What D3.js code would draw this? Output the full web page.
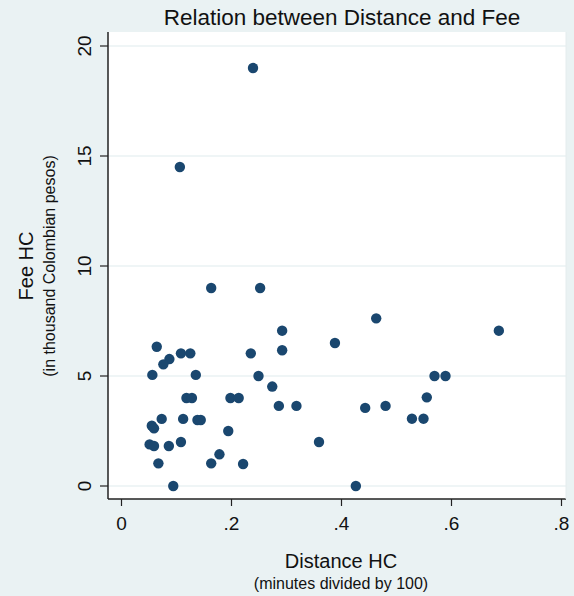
<!DOCTYPE html>
<html>
<head>
<meta charset="utf-8">
<script src="https://cdn.jsdelivr.net/npm/d3@7"></script>
<style>
  html, body { margin: 0; padding: 0; background: #eaf2f3; }
  svg { display: block; font-family: "Liberation Sans", Arial, sans-serif; }
</style>
</head>
<body>
<svg id="chart" width="574" height="596"></svg>
<script>
const distance = [0.240, 0.107, 0.164, 0.253, 0.464, 0.293, 0.687, 0.389, 0.065, 0.109,
  0.126, 0.236, 0.293, 0.088, 0.077, 0.057, 0.136, 0.250, 0.570, 0.590,
  0.275, 0.119, 0.129, 0.199, 0.214, 0.556, 0.287, 0.319, 0.481, 0.444,
  0.074, 0.113, 0.139, 0.145, 0.529, 0.550, 0.056, 0.060, 0.195, 0.052,
  0.060, 0.087, 0.109, 0.360, 0.179, 0.068, 0.164, 0.222, 0.095, 0.427];
const fee = [19.0, 14.5, 9.0, 9.0, 7.62, 7.06, 7.06, 6.5, 6.33, 6.03,
  6.03, 6.03, 6.17, 5.77, 5.53, 5.05, 5.05, 5.0, 5.0, 5.0,
  4.52, 4.0, 4.0, 4.0, 4.0, 4.03, 3.64, 3.64, 3.64, 3.55,
  3.05, 3.05, 3.0, 3.0, 3.06, 3.06, 2.74, 2.62, 2.5, 1.89,
  1.82, 1.82, 2.0, 2.0, 1.44, 1.03, 1.03, 1.0, 0, 0];
const xTicks = [0, 0.2, 0.4, 0.6, 0.8];
const xTickLabels = ["0", ".2", ".4", ".6", ".8"];
const yTicks = [0, 5, 10, 15, 20];
const yTickLabels = ["0", "5", "10", "15", "20"];
const title = "Relation between Distance and Fee";
const xTitle = "Distance HC";
const xSubtitle = "(minutes divided by 100)";
const yTitle = "Fee HC";
const ySubtitle = "(in thousand Colombian pesos)";

const svg = d3.select("#chart");
const W = 574, H = 596;
const plot = { left: 108, right: 566, top: 32, bottom: 499 };
const x = d3.scaleLinear().domain([0, 0.8]).range([121, 561]);
const y = d3.scaleLinear().domain([0, 20]).range([486, 46]);

svg.append("rect").attr("width", W).attr("height", H).attr("fill", "#eaf2f3");
svg.append("rect")
  .attr("x", plot.left).attr("y", plot.top)
  .attr("width", plot.right - plot.left).attr("height", plot.bottom - plot.top)
  .attr("fill", "#ffffff");

// gridlines
svg.append("g").selectAll("line").data(yTicks).join("line")
  .attr("x1", plot.left).attr("x2", plot.right)
  .attr("y1", d => y(d)).attr("y2", d => y(d))
  .attr("stroke", "#eaf2f3").attr("stroke-width", 1.5);

// y axis
const yAxis = d3.axisLeft(y).tickValues(yTicks)
  .tickFormat((d, i) => yTickLabels[i]).tickSize(8).tickPadding(6);
const gy = svg.append("g").attr("transform", `translate(${plot.left},0)`).call(yAxis);
gy.select(".domain").remove();
gy.append("line").attr("x1", 0).attr("x2", 0).attr("y1", plot.top).attr("y2", plot.bottom)
  .attr("stroke", "#222").attr("stroke-width", 1.5);
gy.selectAll(".tick").attr("transform", null);
gy.selectAll(".tick line").attr("stroke", "#222").attr("stroke-width", 1.2)
  .attr("y1", d => y(d)).attr("y2", d => y(d));
gy.selectAll(".tick text")
  .attr("font-size", 19).attr("fill", "#111")
  .attr("text-anchor", "middle")
  .attr("transform", "rotate(-90)")
  .attr("x", d => -y(d))
  .attr("y", -17)
  .attr("dy", "0");

// x axis
const xAxis = d3.axisBottom(x).tickValues(xTicks)
  .tickFormat((d, i) => xTickLabels[i]).tickSize(7).tickPadding(6);
const gx = svg.append("g").attr("transform", `translate(0,${plot.bottom})`).call(xAxis);
gx.select(".domain").remove();
gx.append("line").attr("x1", plot.left).attr("x2", plot.right).attr("y1", 0).attr("y2", 0)
  .attr("stroke", "#222").attr("stroke-width", 1.5);
gx.selectAll(".tick line").attr("stroke", "#222").attr("stroke-width", 1.2);
gx.selectAll(".tick text").attr("font-size", 19).attr("fill", "#111").attr("dy", "0.95em");

// right border of plot region (faint)
svg.append("line").attr("x1", plot.right).attr("x2", plot.right)
  .attr("y1", plot.top).attr("y2", plot.bottom)
  .attr("stroke", "#e4ecee").attr("stroke-width", 1);

// points
const pts = distance.map((d, i) => ({ x: d, y: fee[i] }));
svg.append("g").selectAll("circle").data(pts).join("circle")
  .attr("cx", d => x(d.x)).attr("cy", d => y(d.y)).attr("r", 5.2)
  .attr("fill", "#1a476f");

// titles
svg.append("text").attr("x", 342).attr("y", 25).attr("text-anchor", "middle")
  .attr("font-size", 22.5).attr("fill", "#111").text(title);
svg.append("text").attr("x", 341).attr("y", 568).attr("text-anchor", "middle")
  .attr("font-size", 20).attr("fill", "#111").text(xTitle);
svg.append("text").attr("x", 341).attr("y", 589).attr("text-anchor", "middle")
  .attr("font-size", 16).attr("fill", "#111").text(xSubtitle);
svg.append("text").attr("transform", "translate(33,266) rotate(-90)").attr("text-anchor", "middle")
  .attr("font-size", 20).attr("fill", "#111").text(yTitle);
svg.append("text").attr("transform", "translate(55,266) rotate(-90)").attr("text-anchor", "middle")
  .attr("font-size", 16).attr("fill", "#111").text(ySubtitle);
</script>
</body>
</html>
